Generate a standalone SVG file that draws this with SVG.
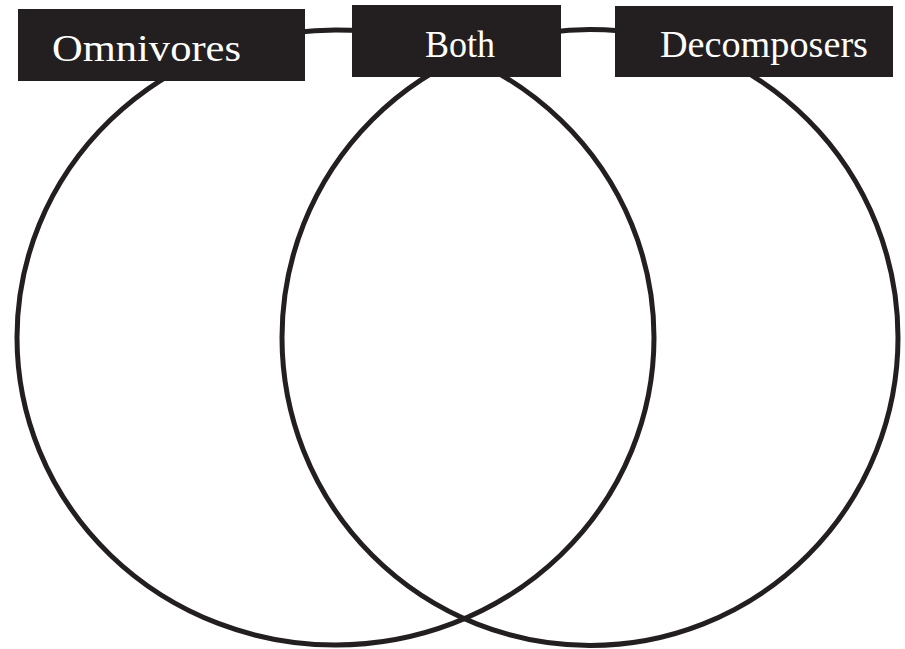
<svg xmlns="http://www.w3.org/2000/svg" width="905" height="649" viewBox="0 0 905 649">
  <style>
    .ring { fill: none; stroke: #231f20; stroke-width: 5; }
    .box { fill: #231f20; }
    .lbl { fill: #ffffff; font-family: "Liberation Serif", "DejaVu Serif", serif; font-size: 38px; }
  </style>
  <rect width="905" height="649" fill="#ffffff"/>
  <g id="connectors">
    <ellipse class="ring" cx="335.5" cy="337.5" rx="318.5" ry="307.5"/>
    <circle class="ring" cx="590" cy="337.5" r="308"/>
  </g>
  <g id="node-omnivores">
    <rect class="box" x="18" y="9" width="287" height="72"/>
    <text class="lbl" x="52" y="61" textLength="189" lengthAdjust="spacingAndGlyphs">Omnivores</text>
  </g>
  <g id="node-both">
    <rect class="box" x="352" y="5" width="209" height="72"/>
    <text class="lbl" x="425" y="57" textLength="70" lengthAdjust="spacingAndGlyphs">Both</text>
  </g>
  <g id="node-decomposers">
    <rect class="box" x="615" y="6" width="278" height="71"/>
    <text class="lbl" x="660" y="57" textLength="208" lengthAdjust="spacingAndGlyphs">Decomposers</text>
  </g>
</svg>
